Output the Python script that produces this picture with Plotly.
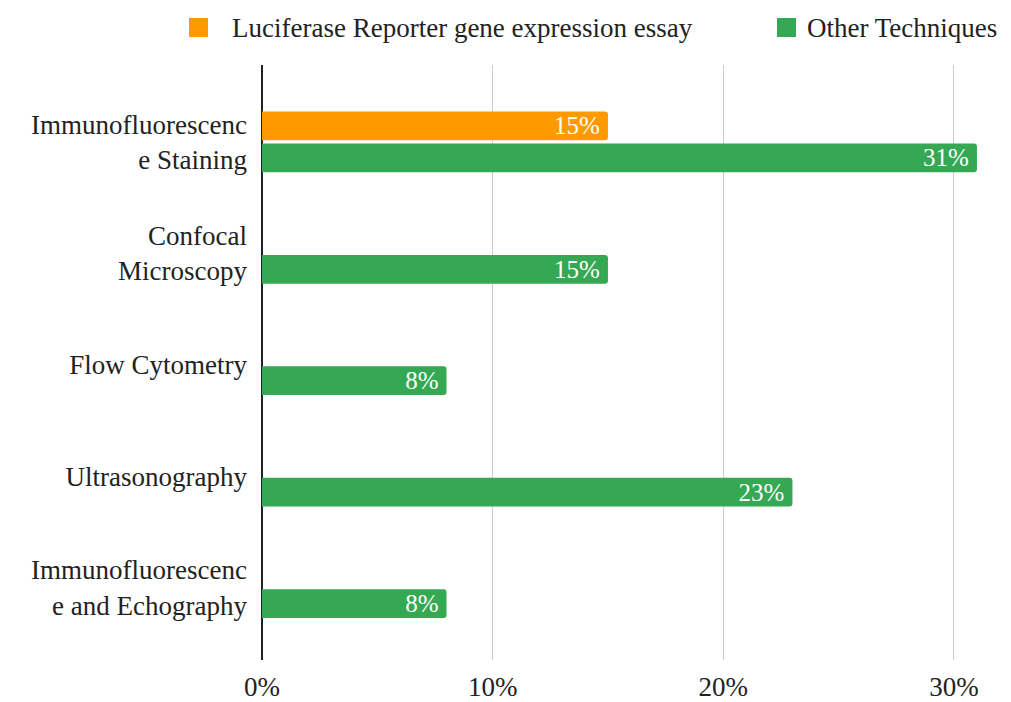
import plotly.graph_objects as go

categories = [
    "Immunofluorescenc<br>e Staining",
    "Confocal<br>Microscopy",
    "Flow Cytometry",
    "Ultrasonography",
    "Immunofluorescenc<br>e and Echography",
]
luciferase = [15, None, None, None, None]
other = [31, 15, 8, 23, 8]
tick_vals = [0, 10, 20, 30]
tick_text = ["0%", "10%", "20%", "30%"]

series_names = ["Luciferase Reporter gene expression essay", "Other Techniques"]
series_colors = ["#FF9900", "#34A853"]

FONT = "Times New Roman, Liberation Serif, Tinos, DejaVu Serif, serif"
W, H = 1011, 702
M = dict(l=262, r=11, t=65, b=42)
PW, PH = W - M["l"] - M["r"], H - M["t"] - M["b"]


def px_x(px):
    return (px - M["l"]) / PW


def px_y(py):
    return (H - M["b"] - py) / PH


def labels(vals):
    return [f"{v}%\u2009" if v is not None else "" for v in vals]


fig = go.Figure()
for name, vals, color in zip(series_names, [luciferase, other], series_colors):
    fig.add_trace(go.Bar(
        name=name, y=categories, x=vals, orientation="h",
        marker=dict(color=color, line=dict(width=0)),
        text=labels(vals), textposition="inside", insidetextanchor="end",
        constraintext="none",
        textfont=dict(family=FONT, size=25, color="white"),
        showlegend=False,
    ))

# legend drawn as swatches + labels along the top
legend_items = [(189, 230), (777, 805)]
shapes, annotations = [], []
for (sx, tx), name, color in zip(legend_items, series_names, series_colors):
    shapes.append(dict(type="rect", xref="paper", yref="paper",
                       x0=px_x(sx), x1=px_x(sx + 19), y0=px_y(37), y1=px_y(18),
                       fillcolor=color, line=dict(width=0)))
    annotations.append(dict(xref="paper", yref="paper", x=px_x(tx), y=px_y(27.5),
                            xanchor="left", yanchor="middle", showarrow=False,
                            text=name, font=dict(family=FONT, size=27, color="#222222")))

fig.update_layout(
    width=W, height=H, margin=M,
    paper_bgcolor="white", plot_bgcolor="white",
    barmode="group", bargap=0.426, bargroupgap=0.1,
    barcornerradius=3,
    font=dict(family=FONT, size=27, color="#222222"),
    showlegend=False,
    shapes=shapes, annotations=annotations,
    xaxis=dict(range=[0, 32], tickvals=tick_vals, ticktext=tick_text,
               showgrid=True, gridcolor="#CCCCCC", gridwidth=1,
               zeroline=True, zerolinecolor="#222222", zerolinewidth=1.5,
               showline=False, ticks="", ticklabelstandoff=8,
               automargin=False, tickfont=dict(size=27)),
    yaxis=dict(type="category", range=[4.65, -0.69], showgrid=False,
               showline=False, ticks="", ticklabelstandoff=14,
               automargin=False, tickfont=dict(size=27)),
)

fig.write_html("out.html")
